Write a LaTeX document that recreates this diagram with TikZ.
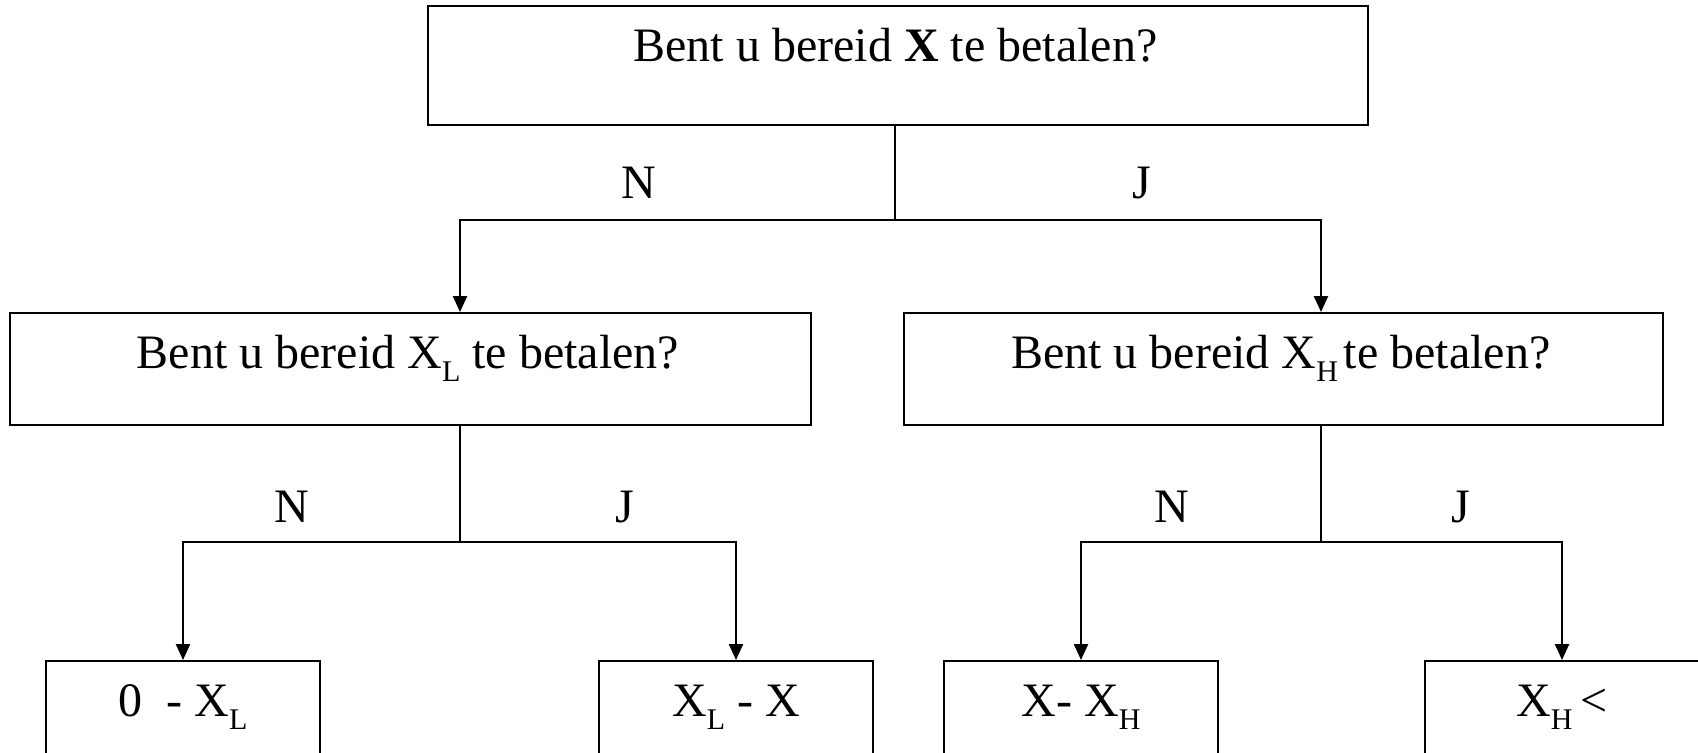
\documentclass[tikz,border=0pt]{standalone}
\usepackage{fontspec}
\setmainfont{Liberation Serif}
\usetikzlibrary{arrows.meta}
\newcommand{\lo}[1]{\raisebox{-0.27em}{\fontsize{15}{15}\selectfont #1}}

\begin{document}
\begin{tikzpicture}[x=0.5pt, y=-0.5pt,
    box/.style={draw, line width=1pt, inner sep=0pt},
    txt/.style={anchor=base, inner sep=0pt, font=\fontsize{24}{28}\selectfont},
    link/.style={line width=1.2pt},
    arrow/.style={line width=1.2pt, -{Triangle[length=8pt, width=7pt]}}]

    \useasboundingbox (0,0) rectangle (1698,752);
    \clip (0,0) rectangle (1698,752);

    % Pregunta inicial
    \node[box, minimum width=470pt, minimum height=59.5pt] (q0) at (897.5,65.5) {};
    \node[txt] (q0text) at (895.5,61) {Bent u bereid \textbf{X} te betalen?};

    % Preguntas de seguimiento
    \node[box, minimum width=400.5pt, minimum height=56pt] (q1) at (410,369) {};
    \node[txt] (q1text) at (408,368.3) {Bent u bereid X\lo{L} te betalen?};
    \node[box, minimum width=379.5pt, minimum height=56pt] (q2) at (1283.5,369) {};
    \node[txt] (q2text) at (1280.7,368.3) {Bent u bereid X\lo{H}\hspace{0.12em}te betalen?};

    % Intervalos finales
    \node[box, minimum width=137pt, minimum height=60pt] (a1) at (183,721) {};
    \node[txt] (a1text) at (183,716.7) {0\ \ - X\lo{L}};
    \node[box, minimum width=137pt, minimum height=60pt] (a2) at (736,721) {};
    \node[txt] (a2text) at (736,716.7) {X\lo{L} - X};
    \node[box, minimum width=137pt, minimum height=60pt] (a3) at (1081,721) {};
    \node[txt] (a3text) at (1081,716.7) {X- X\lo{H}};
    \node[box, minimum width=137pt, minimum height=60pt] (a4) at (1562,721) {};
    \node[txt] (a4text) at (1562,716.7) {X\lo{H}\,<};

    % Ramas
    \coordinate (s0) at (895,220);
    \coordinate (s1) at (460,542);
    \coordinate (s2) at (1321,542);

    \draw[link] (q0.south -| s0) -- (s0);
    \draw[arrow] (s0) -| (q1.north -| s1);
    \draw[arrow] (s0) -| (q2.north -| s2);

    \draw[link] (q1.south -| s1) -- (s1);
    \draw[arrow] (s1) -| (a1.north);
    \draw[arrow] (s1) -| (a2.north);

    \draw[link] (q2.south -| s2) -- (s2);
    \draw[arrow] (s2) -| (a3.north);
    \draw[arrow] (s2) -| (a4.north);

    %leyendas
    \node[txt] (n0) at (639,198) {N};
    \node[txt] (j0) at (1142,198) {J};
    \node[txt] (n1) at (292,522.7) {N};
    \node[txt] (j1) at (625,522.7) {J};
    \node[txt] (n2) at (1172,522.7) {N};
    \node[txt] (j2) at (1461,522.7) {J};

\end{tikzpicture}
\end{document}
